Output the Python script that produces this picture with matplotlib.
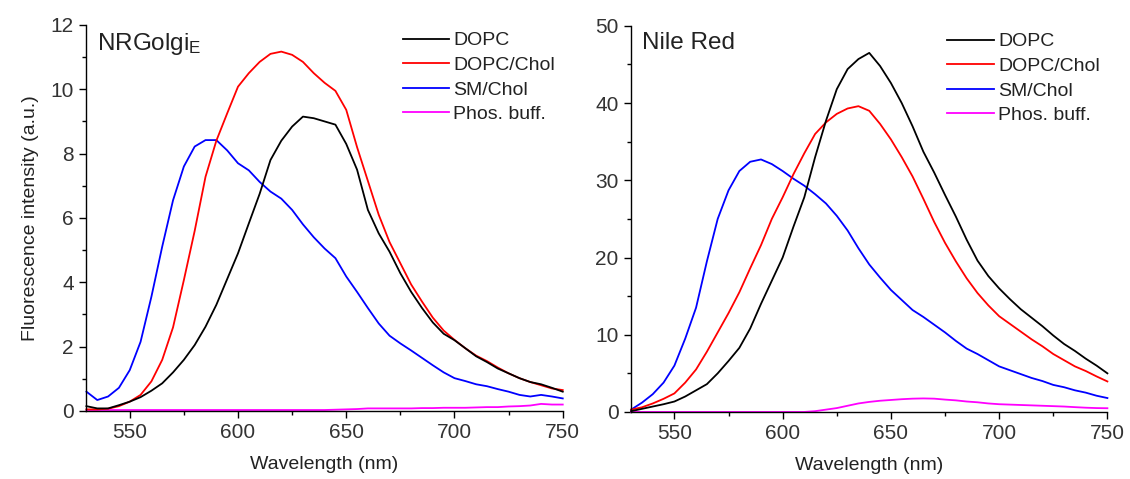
import matplotlib
matplotlib.use("Agg")
import matplotlib.pyplot as plt
import matplotlib.ticker as ticker
import numpy as np

plt.rcParams.update({
    "font.family": ["Liberation Sans", "DejaVu Sans"],
    "mathtext.fontset": "custom",
    "mathtext.rm": "Liberation Sans",
    "mathtext.it": "Liberation Sans:italic",
    "text.color": "#222222",
    "axes.labelcolor": "#222222",
    "xtick.color": "black",
    "ytick.color": "black",
    "xtick.labelcolor": "#333333",
    "ytick.labelcolor": "#333333",
})

# wavelength grid (nm), values every 5 nm
wavelength = np.arange(530, 751, 5)

# NRGolgi_E panel
nrg_dopc = [0.15, 0.08, 0.08, 0.18, 0.29, 0.43, 0.63, 0.86, 1.20, 1.59,
            2.05, 2.62, 3.30, 4.10, 4.90, 5.83, 6.75, 7.80, 8.40, 8.84,
            9.15, 9.10, 9.00, 8.90, 8.30, 7.50, 6.25, 5.52, 4.95, 4.28,
            3.70, 3.20, 2.75, 2.40, 2.20, 1.95, 1.70, 1.52, 1.32, 1.17,
            1.02, 0.90, 0.83, 0.72, 0.60]
nrg_dopc_chol = [0.05, 0.05, 0.07, 0.15, 0.29, 0.50, 0.92, 1.59, 2.60, 4.07,
                 5.60, 7.28, 8.40, 9.25, 10.08, 10.50, 10.85, 11.10, 11.17, 11.07,
                 10.85, 10.50, 10.20, 9.95, 9.36, 8.20, 7.15, 6.10, 5.25, 4.59,
                 3.93, 3.40, 2.90, 2.50, 2.21, 1.95, 1.72, 1.55, 1.35, 1.17,
                 1.02, 0.90, 0.80, 0.70, 0.65]
nrg_sm_chol = [0.60, 0.34, 0.45, 0.72, 1.27, 2.15, 3.55, 5.11, 6.55, 7.60,
               8.22, 8.42, 8.42, 8.10, 7.70, 7.48, 7.12, 6.82, 6.60, 6.25,
               5.80, 5.40, 5.05, 4.75, 4.18, 3.70, 3.20, 2.72, 2.34, 2.10,
               1.88, 1.65, 1.42, 1.20, 1.02, 0.93, 0.83, 0.77, 0.68, 0.60,
               0.50, 0.45, 0.50, 0.45, 0.39]
nrg_buffer = [0.03, 0.03, 0.03, 0.03, 0.03, 0.03, 0.03, 0.03, 0.03, 0.03,
              0.03, 0.03, 0.03, 0.03, 0.03, 0.03, 0.03, 0.03, 0.03, 0.03,
              0.03, 0.03, 0.03, 0.04, 0.05, 0.06, 0.08, 0.08, 0.08, 0.08,
              0.08, 0.09, 0.09, 0.10, 0.10, 0.10, 0.11, 0.12, 0.12, 0.14,
              0.15, 0.17, 0.22, 0.20, 0.20]

# Nile Red panel
nr_dopc = [0.1, 0.4, 0.7, 1.0, 1.35, 2.0, 2.8, 3.6, 5.0, 6.6,
           8.3, 10.8, 14.0, 17.0, 20.0, 24.0, 27.8, 33.0, 37.7, 41.8,
           44.4, 45.7, 46.5, 44.8, 42.6, 40.0, 37.0, 33.7, 31.0, 28.1,
           25.3, 22.3, 19.6, 17.6, 16.0, 14.6, 13.3, 12.2, 11.1, 9.9,
           8.8, 7.9, 6.9, 6.0, 5.0]
nr_dopc_chol = [0.3, 0.6, 1.1, 1.7, 2.4, 3.8, 5.5, 7.8, 10.3, 12.8,
                15.5, 18.6, 21.6, 25.0, 27.8, 30.8, 33.5, 36.0, 37.5, 38.6,
                39.3, 39.6, 39.0, 37.3, 35.3, 33.0, 30.5, 27.6, 24.6, 21.9,
                19.5, 17.3, 15.4, 13.8, 12.4, 11.4, 10.4, 9.4, 8.5, 7.5,
                6.7, 5.9, 5.3, 4.6, 3.95]
nr_sm_chol = [0.3, 1.2, 2.3, 3.8, 6.0, 9.5, 13.5, 19.5, 25.0, 28.7,
              31.2, 32.4, 32.7, 32.1, 31.2, 30.2, 29.3, 28.2, 27.0, 25.4,
              23.5, 21.2, 19.1, 17.4, 15.8, 14.5, 13.2, 12.3, 11.3, 10.3,
              9.2, 8.2, 7.5, 6.7, 5.9, 5.4, 4.9, 4.4, 4.0, 3.5,
              3.2, 2.8, 2.5, 2.1, 1.8]
nr_buffer = [0.0, 0.0, 0.0, 0.0, 0.0, 0.0, 0.0, 0.0, 0.0, 0.0,
             0.0, 0.0, 0.0, 0.0, 0.0, 0.0, 0.0, 0.1, 0.3, 0.5,
             0.8, 1.1, 1.3, 1.45, 1.55, 1.65, 1.72, 1.75, 1.72, 1.6,
             1.5, 1.35, 1.25, 1.1, 1.0, 0.95, 0.9, 0.85, 0.8, 0.75,
             0.7, 0.62, 0.55, 0.5, 0.48]

labels = ["DOPC", "DOPC/Chol", "SM/Chol", "Phos. buff."]
colors = ["black", "#FF0000", "#0000FF", "#FF00FF"]

fig = plt.figure(figsize=(11.3, 4.79), dpi=100, facecolor="white")
ax1 = fig.add_axes([0.0765, 0.142, 0.4215, 0.806])
ax2 = fig.add_axes([0.5585, 0.140, 0.4215, 0.806])


def style(ax, ymax, ymajor, yminor):
    for s in ("top", "right"):
        ax.spines[s].set_visible(False)
    for s in ("left", "bottom"):
        ax.spines[s].set_linewidth(1.0)
    ax.set_xlim(530, 750)
    ax.set_ylim(0, ymax)
    ax.xaxis.set_major_locator(ticker.MultipleLocator(50))
    ax.xaxis.set_minor_locator(ticker.MultipleLocator(25))
    ax.yaxis.set_major_locator(ticker.MultipleLocator(ymajor))
    ax.yaxis.set_minor_locator(ticker.MultipleLocator(yminor))
    ax.tick_params(which="major", direction="out", length=5, width=1.0,
                   labelsize=15, pad=4)
    ax.tick_params(which="minor", direction="out", length=3, width=1.0)
    ax.set_xlabel("Wavelength (nm)", fontsize=14, labelpad=10)


panels = [
    (ax1, [nrg_dopc, nrg_dopc_chol, nrg_sm_chol, nrg_buffer], 12, 2, 1,
     "NRGolgi$_{\\mathrm{E}}$"),
    (ax2, [nr_dopc, nr_dopc_chol, nr_sm_chol, nr_buffer], 50, 10, 5,
     "Nile Red"),
]

for ax, series, ymax, ymaj, ymin, title in panels:
    # buffer drawn first so the spectra sit on top
    for vals, lab, col in reversed(list(zip(series, labels, colors))):
        ax.plot(wavelength, vals, color=col, lw=1.3, label=lab, clip_on=False)
    style(ax, ymax, ymaj, ymin)
    ax.text(0.022, 0.985, title, transform=ax.transAxes, fontsize=17.5,
            ha="left", va="top", color="#222222")
    h, l = ax.get_legend_handles_labels()
    ax.legend(h[::-1], l[::-1], loc="upper left", bbox_to_anchor=(0.664, 0.982),
              frameon=False, fontsize=14, handlelength=2.4, handletextpad=0.2,
              labelspacing=0.36, borderpad=0, borderaxespad=0)

ax1.set_ylabel("Fluorescence intensity (a.u.)", fontsize=14, labelpad=8)

fig.savefig("out.png", dpi=100, facecolor="white")
